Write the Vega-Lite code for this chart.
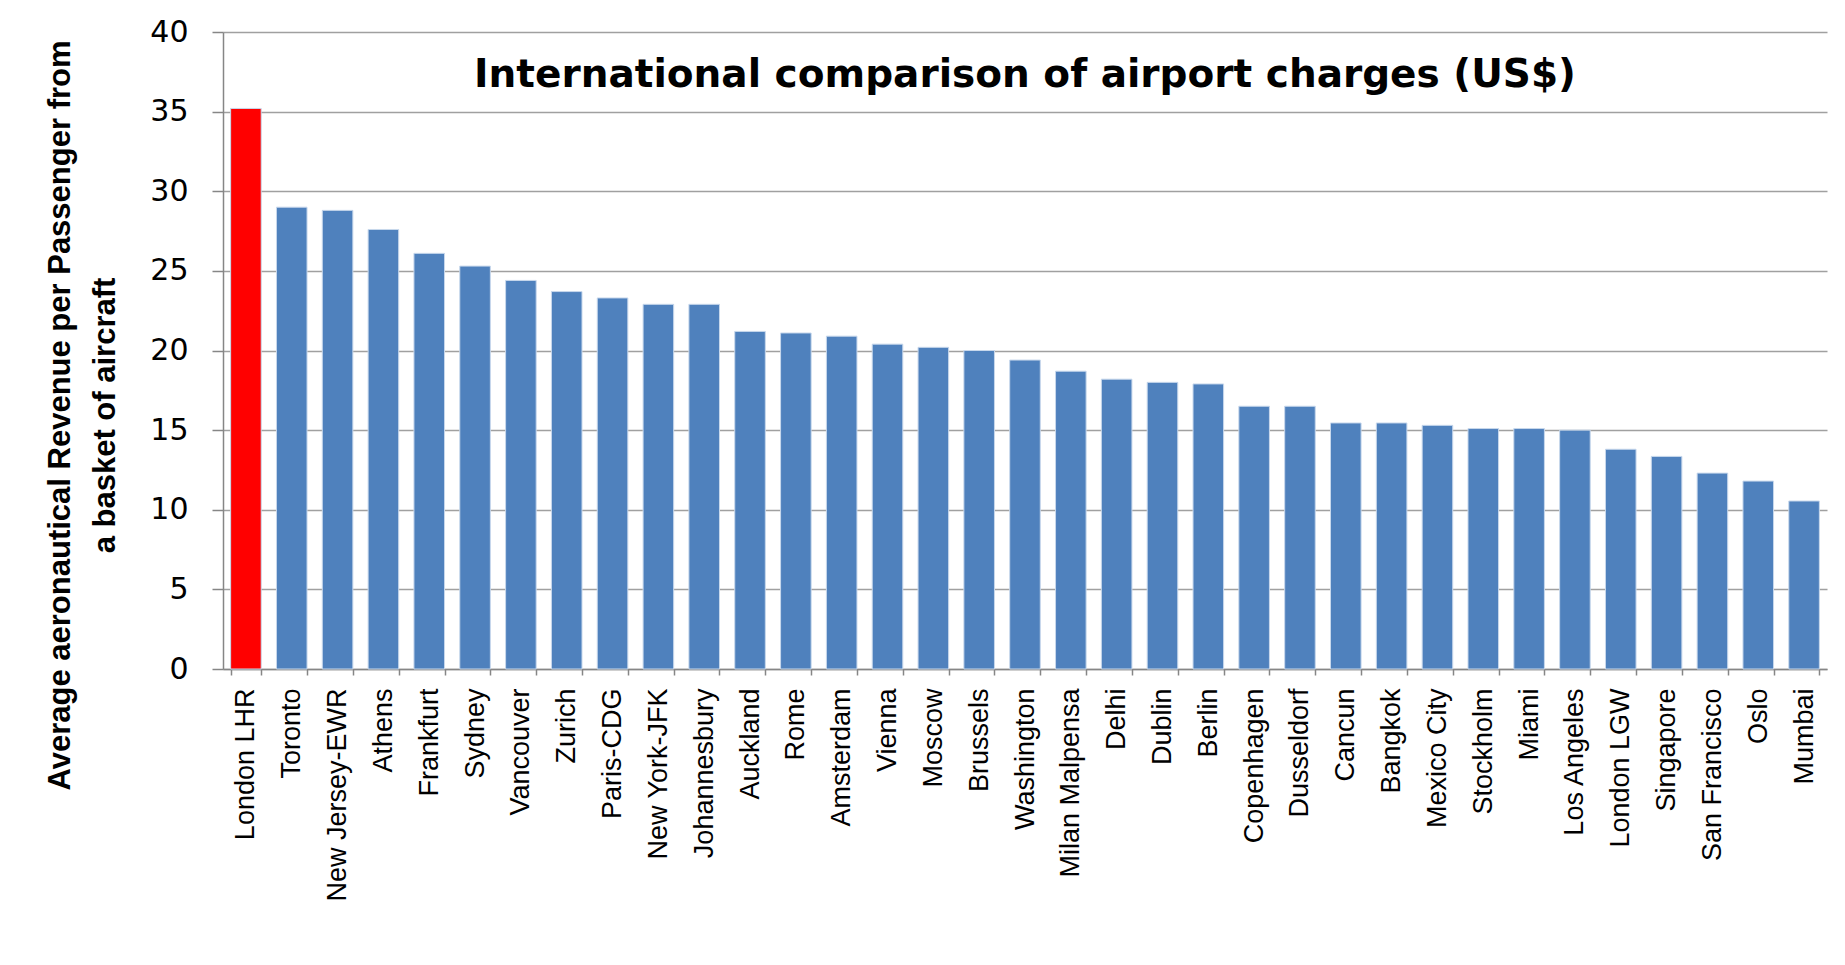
{
  "$schema": "https://vega.github.io/schema/vega-lite/v6.json",
  "autosize": {"type": "none"},
  "width": 1604,
  "height": 637,
  "padding": {"left": 223, "top": 32, "right": 18, "bottom": 296},
  "background": "#ffffff",
  "title": {
    "text": "International comparison of airport charges (US$)",
    "font": "DejaVu Sans",
    "fontWeight": "bold",
    "fontSize": 39,
    "color": "#000000",
    "anchor": "middle",
    "baseline": "alphabetic",
    "offset": -53,
    "dy": 56
  },
  "data": {
    "values": [
      {"city": "London LHR", "value": 35.2},
      {"city": "Toronto", "value": 29.0},
      {"city": "New Jersey-EWR", "value": 28.8},
      {"city": "Athens", "value": 27.6},
      {"city": "Frankfurt", "value": 26.1},
      {"city": "Sydney", "value": 25.3},
      {"city": "Vancouver", "value": 24.4},
      {"city": "Zurich", "value": 23.7},
      {"city": "Paris-CDG", "value": 23.3},
      {"city": "New York-JFK", "value": 22.9},
      {"city": "Johannesbury", "value": 22.9},
      {"city": "Auckland", "value": 21.2},
      {"city": "Rome", "value": 21.1},
      {"city": "Amsterdam", "value": 20.9},
      {"city": "Vienna", "value": 20.4},
      {"city": "Moscow", "value": 20.2},
      {"city": "Brussels", "value": 20.0},
      {"city": "Washington", "value": 19.4},
      {"city": "Milan Malpensa", "value": 18.7},
      {"city": "Delhi", "value": 18.2},
      {"city": "Dublin", "value": 18.0},
      {"city": "Berlin", "value": 17.9},
      {"city": "Copenhagen", "value": 16.5},
      {"city": "Dusseldorf", "value": 16.5},
      {"city": "Cancun", "value": 15.45},
      {"city": "Bangkok", "value": 15.45},
      {"city": "Mexico City", "value": 15.3},
      {"city": "Stockholm", "value": 15.1},
      {"city": "Miami", "value": 15.1},
      {"city": "Los Angeles", "value": 15.0},
      {"city": "London LGW", "value": 13.8},
      {"city": "Singapore", "value": 13.35},
      {"city": "San Francisco", "value": 12.3},
      {"city": "Oslo", "value": 11.8},
      {"city": "Mumbai", "value": 10.55}
    ]
  },
  "mark": {"type": "bar", "stroke": "#c8d8ec", "strokeWidth": 1},
  "encoding": {
    "x": {
      "field": "city",
      "type": "nominal",
      "sort": null,
      "scale": {"paddingInner": 0.333, "paddingOuter": 0.1667},
      "axis": {
        "title": null,
        "labelAngle": 270,
        "labelAlign": "right",
        "labelBaseline": "middle",
        "labelFont": "Liberation Sans",
        "labelFontSize": 27,
        "labelColor": "#000000",
        "labelPadding": 13,
        "labelOverlap": false,
        "labelLimit": 400,
        "tickBand": "extent",
        "tickSize": 6,
        "tickColor": "#868686",
        "tickWidth": 1.5,
        "domainColor": "#868686",
        "domainWidth": 1.5,
        "grid": false
      }
    },
    "y": {
      "field": "value",
      "type": "quantitative",
      "scale": {"domain": [0, 40], "nice": false},
      "axis": {
        "title": ["Average aeronautical Revenue per Passenger from", "a basket of aircraft"],
        "titleFont": "Liberation Sans",
        "titleFontWeight": "bold",
        "titleFontSize": 31,
        "titleColor": "#000000",
        "titleLineHeight": 45,
        "titleAngle": 270,
        "titleAlign": "center",
        "titleBaseline": "top",
        "titleX": -178,
        "titleY": 383,
        "values": [0, 5, 10, 15, 20, 25, 30, 35, 40],
        "labelFont": "DejaVu Sans",
        "labelFontSize": 30,
        "labelColor": "#000000",
        "labelPadding": 24,
        "tickSize": 11,
        "tickColor": "#868686",
        "tickWidth": 1.5,
        "domainColor": "#868686",
        "domainWidth": 1.5,
        "gridColor": "#a0a0a0",
        "gridWidth": 1.6
      }
    },
    "color": {
      "condition": {"test": "datum.city === 'London LHR'", "value": "#FF0000"},
      "value": "#4F81BD"
    }
  },
  "config": {"view": {"stroke": null}}
}
